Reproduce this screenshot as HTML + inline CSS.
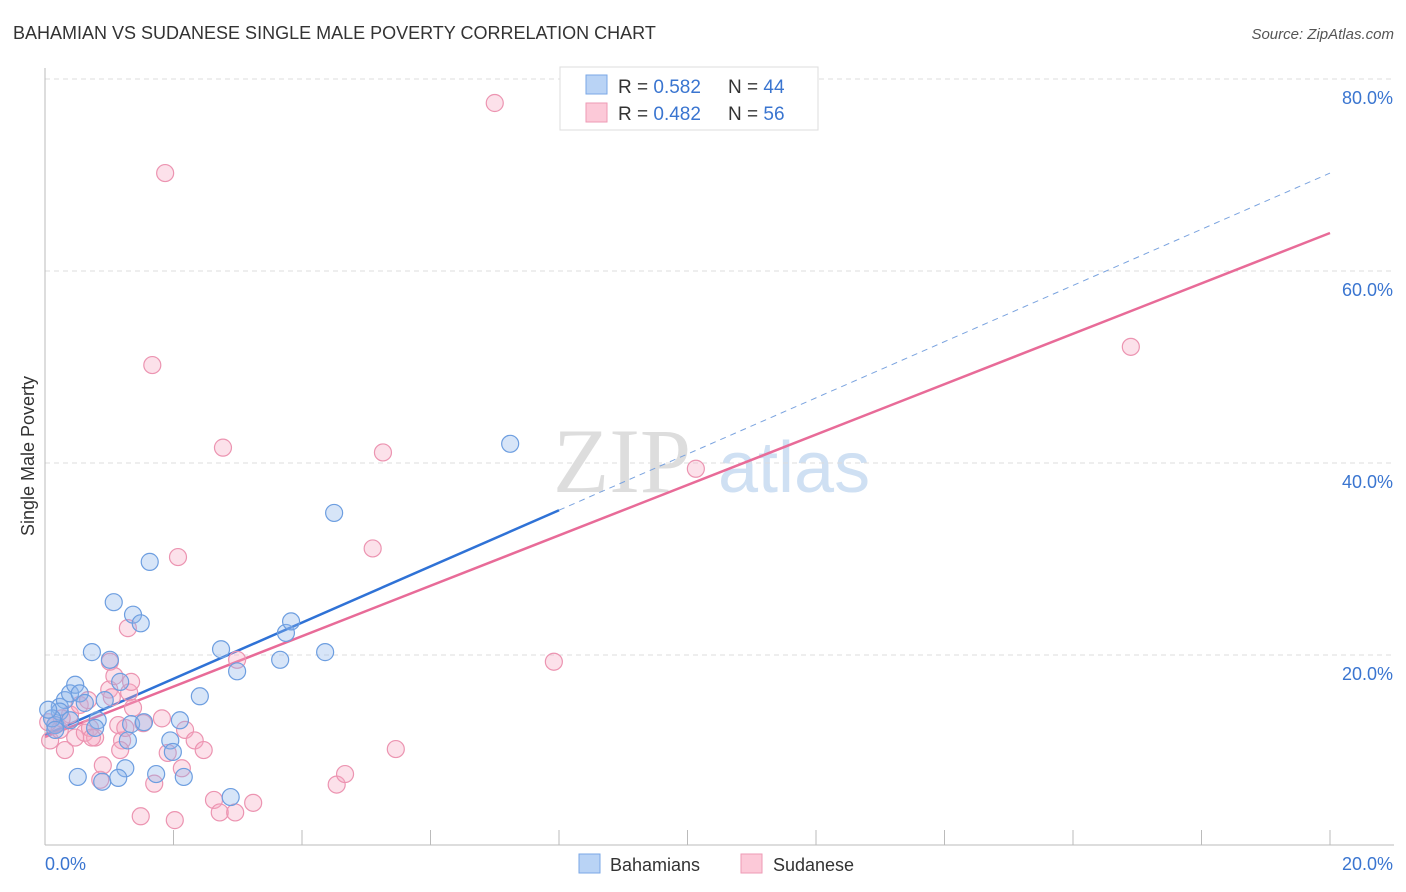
<!DOCTYPE html>
<html><head><meta charset="utf-8"><style>
body{margin:0;background:#fff;font-family:"Liberation Sans",sans-serif;}
svg{display:block}
</style></head><body>
<svg id="chart" width="1406" height="892">
<text x="13" y="39" font-size="18" fill="#333">BAHAMIAN VS SUDANESE SINGLE MALE POVERTY CORRELATION CHART</text>
<text x="1394" y="39" font-size="15" fill="#555" font-style="italic" text-anchor="end">Source: ZipAtlas.com</text>
<g>
<text x="553" y="492" font-size="92" font-family="Liberation Serif,serif" fill="#ddd">ZIP</text>
<text x="718" y="492" font-size="72" fill="#cfe0f3">atlas</text>
</g>
<g id="grid"></g>
<g id="axes"></g>
<g id="lines"></g>
<g id="points"></g>
<text transform="translate(34,456) rotate(-90)" font-size="18" fill="#333" text-anchor="middle">Single Male Poverty</text>
<g>
<rect x="560" y="67" width="258" height="63" fill="#fff" stroke="#ddd"/>
<rect x="586" y="75" width="21" height="19" fill="#b9d3f5" stroke="#7aa7e6"/>
<rect x="586" y="103" width="21" height="19" fill="#fcc9d8" stroke="#ee9ab5"/>
<text x="618" y="93" font-size="19" fill="#333">R = <tspan fill="#3a75d0">0.582</tspan></text>
<text x="728" y="93" font-size="19" fill="#333">N = <tspan fill="#3a75d0">44</tspan></text>
<text x="618" y="120" font-size="19" fill="#333">R = <tspan fill="#3a75d0">0.482</tspan></text>
<text x="728" y="120" font-size="19" fill="#333">N = <tspan fill="#3a75d0">56</tspan></text>
</g>
<g>
<rect x="579" y="854" width="21" height="19" fill="#b9d3f5" stroke="#7aa7e6"/>
<text x="610" y="871" font-size="18" fill="#333">Bahamians</text>
<rect x="741" y="854" width="21" height="19" fill="#fcc9d8" stroke="#ee9ab5"/>
<text x="773" y="871" font-size="18" fill="#333">Sudanese</text>
</g>
</svg>
<script>
const yTicks=[20,40,60,80];
const xTickLabels=["0.0%","20.0%"];
const blueX=[0.16,0.23,0.31,0.39,0.47,0.54,0.62,0.23,0.11,0.16,0.73,0.82,0.78,0.93,1.01,1.07,1.17,1.25,1.14,0.51,0.89,1.29,1.34,1.37,1.49,1.54,1.63,1.73,1.95,1.99,2.10,2.16,2.41,2.74,2.89,2.99,3.66,3.75,3.83,4.36,4.50,7.24,0.05,0.39];
const blueY=[12.7,14.6,15.3,16.0,16.9,16.0,15.0,14.1,13.4,12.2,20.3,13.2,12.4,15.3,19.5,25.5,17.2,8.2,7.2,7.3,6.8,11.1,12.8,24.2,23.3,13.0,29.7,7.6,11.1,9.9,13.2,7.3,15.7,20.6,5.2,18.3,19.5,22.3,23.5,20.3,34.8,42.0,14.3,13.2];
const pinkX=[0.08,0.16,0.23,0.31,0.39,0.47,0.54,0.62,0.70,0.78,0.86,0.90,1.00,1.01,1.08,1.14,1.20,1.17,1.31,1.34,1.37,1.29,1.49,1.53,1.67,1.70,1.82,1.87,1.91,2.02,2.07,2.13,2.18,2.33,2.47,2.63,2.72,2.77,2.96,2.99,3.24,4.54,4.67,5.10,5.26,5.46,7.00,7.92,10.13,16.90,0.67,0.26,0.05,1.04,1.25,0.73];
const pinkY=[11.1,12.7,12.2,10.1,13.8,11.4,14.8,11.9,12.4,11.4,7.0,8.5,16.4,19.3,17.8,12.7,11.1,10.1,16.1,17.2,14.5,22.8,3.2,12.9,50.2,6.6,13.4,70.2,9.8,2.8,30.2,8.2,12.2,11.1,10.1,4.9,3.6,41.6,3.6,19.5,4.6,6.5,7.6,31.1,41.1,10.2,77.5,19.3,39.4,52.1,15.3,13.4,13.0,15.6,12.4,11.4];
const blueTrend=[11.67,70.2]; // y at x=0 and x=20
const blueSolidEnd=8.0;
const pinkTrend=[11.46,63.96];
const X=v=>45+v/20*1285, Y=v=>847-v/20*192;
const NS="http://www.w3.org/2000/svg";
function mk(t,a,p){const e=document.createElementNS(NS,t);for(const k in a)e.setAttribute(k,a[k]);p.appendChild(e);return e;}
const grid=document.getElementById('grid'),axes=document.getElementById('axes'),lines=document.getElementById('lines'),pts=document.getElementById('points');
yTicks.forEach(v=>{
 const l=mk('line',{x1:45,x2:1394,y1:Y(v),y2:Y(v),stroke:'#ddd','stroke-dasharray':'5,4'},grid);
 
 
 const t=mk('text',{x:1393,y:Y(v)+25,'font-size':18,fill:'#3a75d0','text-anchor':'end'},grid);
 t.textContent=v.toFixed(1)+'%';
 
 
});
mk('line',{x1:45,x2:45,y1:68,y2:845,stroke:'#bbb'},axes);
mk('line',{x1:45,x2:1394,y1:845,y2:845,stroke:'#bbb'},axes);
for(let i=0;i<=10;i++){const tk=mk('line',{x1:X(i*2),x2:X(i*2),y1:830,y2:845,stroke:'#bbb'},axes);
 
 }
const t0=mk('text',{x:45,y:870,'font-size':18,fill:'#3a75d0'},axes);t0.textContent=xTickLabels[0];


const t1=mk('text',{x:1393,y:870,'font-size':18,fill:'#3a75d0','text-anchor':'end'},axes);t1.textContent=xTickLabels[1];


function pt(x,y,c,s,n){const e=mk('circle',{cx:X(x),cy:Y(y),r:8.5,fill:c,stroke:s,'stroke-width':1.2},pts);
 
 }
pinkX.forEach((x,i)=>pt(x,pinkY[i],'rgba(246,170,195,0.35)','#ec94b1','sudanese-point'));
blueX.forEach((x,i)=>pt(x,blueY[i],'rgba(140,180,235,0.35)','#6d9ee0','bahamian-point'));
const bl=(x)=>blueTrend[0]+(blueTrend[1]-blueTrend[0])*x/20, pl=(x)=>pinkTrend[0]+(pinkTrend[1]-pinkTrend[0])*x/20;
const b1=mk('line',{x1:X(0),y1:Y(bl(0)),x2:X(blueSolidEnd),y2:Y(bl(blueSolidEnd)),stroke:'#2f72d6','stroke-width':2.5},lines);


const b2=mk('line',{x1:X(blueSolidEnd),y1:Y(bl(blueSolidEnd)),x2:X(20),y2:Y(bl(20)),stroke:'#7aa3df','stroke-width':1,'stroke-dasharray':'6,5'},lines);


const p1=mk('line',{x1:X(0),y1:Y(pl(0)),x2:X(20),y2:Y(pl(20)),stroke:'#e86b98','stroke-width':2.5},lines);


</script>
</body></html>
